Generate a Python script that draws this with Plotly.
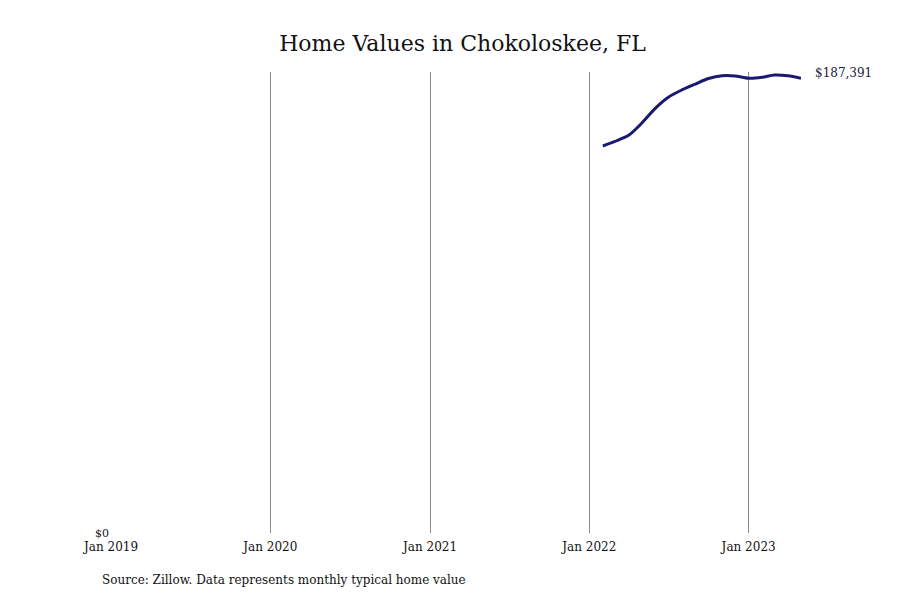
import plotly.graph_objects as go

dates = ["2022-02-01", "2022-03-01", "2022-04-01", "2022-05-01", "2022-06-01", "2022-07-01",
         "2022-08-01", "2022-09-01", "2022-10-01", "2022-11-01", "2022-12-01", "2023-01-01",
         "2023-02-01", "2023-03-01", "2023-04-01", "2023-05-01"]
values = [159500, 161400, 163900, 168900, 175000, 179600,
          182600, 185050, 187300, 188450, 188350, 187400,
          187800, 188750, 188450, 187391]
tick_vals = ["2019-01-01", "2020-01-01", "2021-01-01", "2022-01-01", "2023-01-01"]
tick_text = ["Jan 2019", "Jan 2020", "Jan 2021", "Jan 2022", "Jan 2023"]
title = "Home Values in Chokoloskee, FL"
source = "Source: Zillow. Data represents monthly typical home value"
last_label = "$187,391"

FONT = "DejaVu Serif"

fig = go.Figure()
fig.add_trace(go.Scatter(x=dates, y=values, mode="lines",
                         line=dict(color="#191970", width=3, shape="spline", smoothing=0.8),
                         hoverinfo="skip", showlegend=False))

fig.add_annotation(x=dates[-1], y=values[-1], text=last_label, showarrow=False,
                   xanchor="left", yanchor="middle", xshift=12, yshift=5,
                   font=dict(family=FONT, size=12, color="#1a1a3a"))
fig.add_annotation(x=0, y=0, xref="paper", yref="paper", text=source, showarrow=False,
                   xanchor="left", yanchor="top", xshift=-11, yshift=-38,
                   font=dict(family=FONT, size=12, color="#111111"))

fig.update_layout(
    width=900, height=600,
    margin=dict(l=103, r=107, t=64, b=75),
    paper_bgcolor="white", plot_bgcolor="white",
    title=dict(text=title, x=0.505, xanchor="center", y=0.942, yanchor="middle",
               font=dict(family=FONT, size=22, color="#111111")),
    xaxis=dict(range=["2019-01-01", "2023-05-01"], tickvals=tick_vals, ticktext=tick_text,
               showgrid=True, gridcolor="#8a8a8a", gridwidth=1, zeroline=False,
               showline=False, ticks="", ticklabelstandoff=5,
               tickfont=dict(family=FONT, size=12, color="#111111")),
    yaxis=dict(range=[0, 190000], tickvals=[0], ticktext=["$0"], showgrid=False,
               zeroline=False, showline=False, ticks="", ticklabelstandoff=1,
               tickfont=dict(family=FONT, size=11, color="#111111")),
)

fig.write_html("out.html")
